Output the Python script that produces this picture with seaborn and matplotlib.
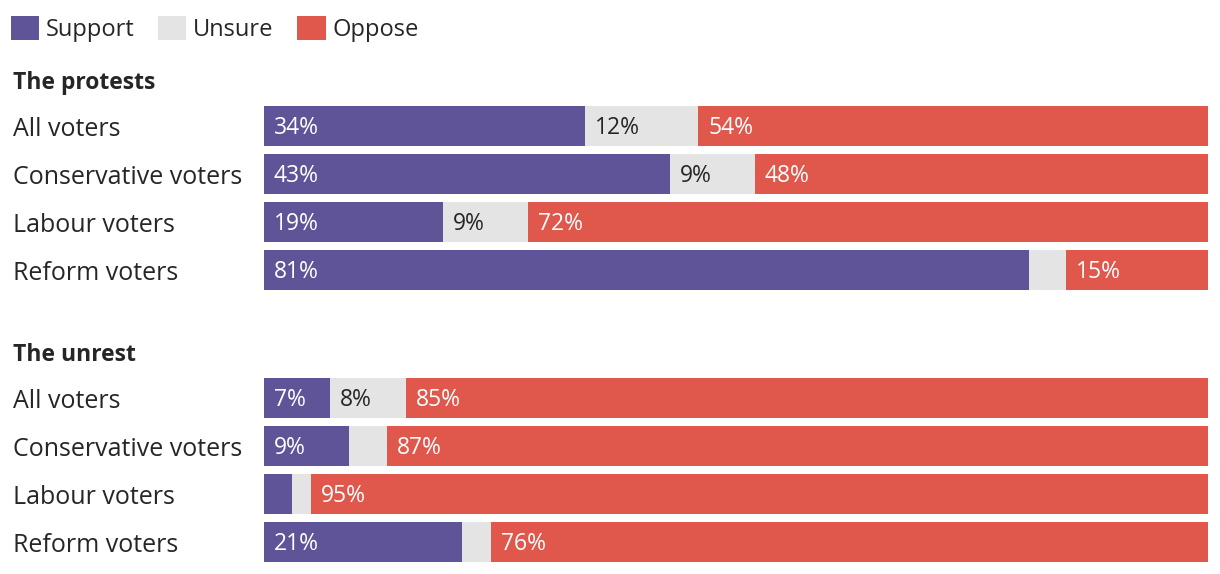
import matplotlib
matplotlib.use("Agg")
import matplotlib.pyplot as plt
from matplotlib.patches import Patch
import matplotlib.transforms as mtransforms
import seaborn as sns
import pandas as pd

groups = ["All voters", "Conservative voters", "Labour voters", "Reform voters"]
sections = ["The protests", "The unrest"]
protests_support = [34, 43, 19, 81]
protests_unsure = [12, 9, 9, 4]
protests_oppose = [54, 48, 72, 15]
unrest_support = [7, 9, 3, 21]
unrest_unsure = [8, 4, 2, 3]
unrest_oppose = [85, 87, 95, 76]
series_names = ["Support", "Unsure", "Oppose"]

C_SUP = "#605498"
C_UNS = "#e4e4e4"
C_OPP = "#e0574b"
TXT = "#262626"

sns.set_theme(style="white")
plt.rcParams['font.family'] = ['Open Sans', 'DejaVu Sans']

FS_LAB = 18
FS_VAL = 16.5
FS_TITLE = 16.5

W, H = 1220, 574
fig = plt.figure(figsize=(W / 100, H / 100), dpi=100)

def axes_rect(top_px, bottom_px):
    return [264 / W, 1 - bottom_px / H, (1208 - 264) / W, (bottom_px - top_px) / H]

data = [
    (protests_support, protests_unsure, protests_oppose),
    (unrest_support, unrest_unsure, unrest_oppose),
]
rects = [axes_rect(106, 290), axes_rect(378, 562)]
title_y = [83, 355]

px2pt = 72 / 100
for (sup, uns, opp), rect, sec, ty in zip(data, rects, sections, title_y):
    ax = fig.add_axes(rect)
    df = pd.DataFrame({"group": groups, "sup": sup, "uns": uns, "opp": opp})
    df["c1"] = df["sup"]
    df["c2"] = df["sup"] + df["uns"]
    df["c3"] = df["sup"] + df["uns"] + df["opp"]
    for col, color in [("c3", C_OPP), ("c2", C_UNS), ("c1", C_SUP)]:
        sns.barplot(data=df, x=col, y="group", orient="h", color=color,
                    width=40 / 48, ax=ax, saturation=1, linewidth=0)
    ax.set_xlim(0, 100)
    ax.set_ylim(3 + 0.5 * 40 / 48, -0.5 * 40 / 48)
    ax.set_xlabel("")
    ax.set_ylabel("")
    ax.set_xticks([])
    for s in ax.spines.values():
        s.set_visible(False)
    ax.tick_params(axis="y", length=0, pad=(264 - 13) * px2pt, labelsize=FS_LAB,
                   labelcolor=TXT)
    for lab in ax.get_yticklabels():
        lab.set_ha("left")
    offs = mtransforms.offset_copy(ax.transData, fig=fig, x=10 * px2pt,
                                   y=-1.5 * px2pt, units="points")
    for i, row in df.iterrows():
        starts = [0, row["c1"], row["c2"]]
        vals = [row["sup"], row["uns"], row["opp"]]
        colors = ["white", TXT, "white"]
        for st, v, c in zip(starts, vals, colors):
            if v >= 5:
                ax.text(st, i, f"{v}%", transform=offs, ha="left", va="center",
                        fontsize=FS_VAL, color=c)
    fig.text(13 / W, 1 - ty / H, sec, fontsize=FS_TITLE, fontweight="bold",
             color=TXT, ha="left", va="center")

handles = [Patch(facecolor=c, edgecolor="none") for c in [C_SUP, C_UNS, C_OPP]]
fig.legend(handles, series_names, loc="upper left",
           bbox_to_anchor=(0, 1 - 5 / H),
           ncol=3, frameon=False, fontsize=17, handlelength=1.19,
           handleheight=1.19, handletextpad=0.3, columnspacing=1.0,
           borderaxespad=0.2, borderpad=0.25, labelcolor=TXT)

fig.savefig("out.png", dpi=100)
